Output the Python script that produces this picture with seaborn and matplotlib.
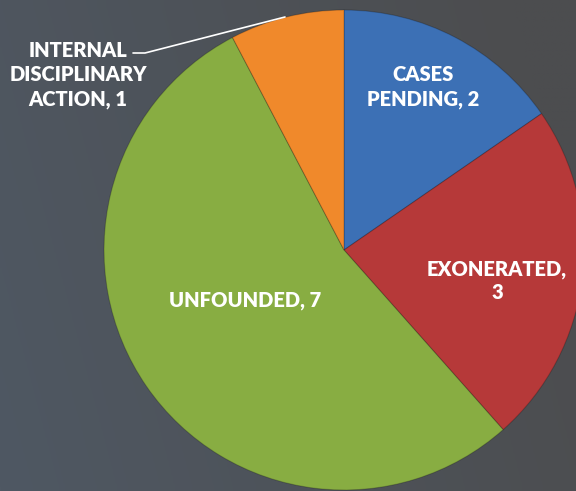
import numpy as np
import matplotlib
matplotlib.use("Agg")
import matplotlib.pyplot as plt
import seaborn as sns

# chart data
categories = ["CASES\nPENDING", "EXONERATED,\n", "UNFOUNDED", "INTERNAL\nDISCIPLINARY\nACTION"]
counts = [2, 3, 7, 1]
slice_colors = ["#3c70b5", "#b63939", "#88ad42", "#f0892b"]

sns.set_theme(style="white")
plt.rcParams["font.family"] = ["Lato", "DejaVu Sans"]

W, H = 576, 491
fig = plt.figure(figsize=(W / 100, H / 100), dpi=100)

# background gradient, bluish grey on the left to neutral grey on the right
bg = fig.add_axes([0, 0, 1, 1])
bg.set_axis_off()
left = np.array([0x4f, 0x58, 0x63]) / 255
right = np.array([0x4c, 0x4d, 0x4f]) / 255
xs = np.linspace(0, 1, 256)
ys = np.linspace(0, 1, 64)
t = np.clip(xs[None, :] * 0.9 + (1 - ys[:, None]) * 0.2, 0, 1)
grad = left[None, None, :] * (1 - t[..., None]) + right[None, None, :] * t[..., None]
bg.imshow(grad, aspect="auto", extent=[0, 1, 0, 1])

ax = fig.add_axes([0, 0, 1, 1])
ax.set_axis_off()
cx, cy, r = 0, 0, 240
wedges, _ = ax.pie(counts, colors=slice_colors, startangle=90, counterclock=False,
                   radius=r, center=(cx, cy),
                   wedgeprops=dict(edgecolor=(0, 0, 0, 0.2), linewidth=0.8))
ax.set_xlim(-344, W - 344)
ax.set_ylim(-(H - 250), 250)
ax.set_aspect("equal")

txt = dict(color="white", fontsize=14.5, fontweight="heavy", ha="center", va="center",
           linespacing=1.3)
ax.text(79, 163, f"CASES\nPENDING, {counts[0]}", **txt)
ax.text(153, -31, f"EXONERATED,\n{counts[1]}", **txt)
ax.text(-99, -50, f"UNFOUNDED, {counts[2]}", **txt)
ax.text(-266, 175, f"INTERNAL\nDISCIPLINARY\nACTION, {counts[3]}", **txt)
ax.plot([-211, -199, -59], [197, 197, 233], color="white", lw=1.2)

fig.savefig("out.png", dpi=100)
